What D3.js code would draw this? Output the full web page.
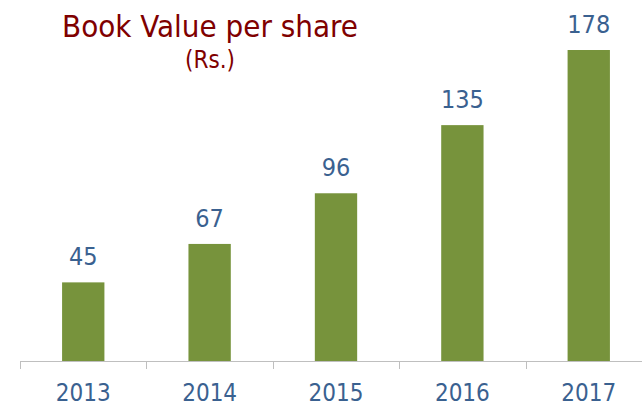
<!DOCTYPE html>
<html>
<head>
<meta charset="utf-8">
<script src="https://cdn.jsdelivr.net/npm/d3@7"></script>
<style>
  body { margin: 0; background: #fff; }
  text { font-family: "DejaVu Sans Condensed", "DejaVu Sans", sans-serif; }
</style>
</head>
<body>
<svg id="chart" width="642" height="407"></svg>
<script>
var years = ["2013", "2014", "2015", "2016", "2017"];
var bookValue = [45, 67, 96, 135, 178];

var svg = d3.select("#chart");

// category bands run past the right edge, as in the original slide crop
var x = d3.scaleBand().domain(years).range([20, 652]).paddingInner(0.665).paddingOuter(0.333);
var y = d3.scaleLinear().domain([0, 178]).range([361, 50]);
var step = x.step();

svg.selectAll("rect.bar")
  .data(bookValue)
  .enter()
  .append("rect")
  .attr("class", "bar")
  .attr("x", function(d, i) { return x(years[i]); })
  .attr("width", x.bandwidth())
  .attr("y", function(d) { return y(d); })
  .attr("height", function(d) { return y(0) - y(d); })
  .attr("fill", "#77933C");

svg.selectAll("text.val")
  .data(bookValue)
  .enter()
  .append("text")
  .attr("class", "val")
  .attr("x", function(d, i) { return x(years[i]) + x.bandwidth() / 2; })
  .attr("y", function(d) { return y(d) - 17; })
  .attr("text-anchor", "middle")
  .attr("font-size", 25)
  .attr("fill", "#3A6190")
  .text(function(d) { return d; });

// axis line + ticks on the category boundaries
var axis = svg.append("g");
axis.append("line")
  .attr("x1", 20).attr("x2", 642)
  .attr("y1", 361.5).attr("y2", 361.5)
  .attr("stroke", "#BFBFBF");

axis.selectAll("line.tick")
  .data(years)
  .enter()
  .append("line")
  .attr("class", "tick")
  .attr("x1", function(d) { return Math.round(x(d) + x.bandwidth() / 2 - step / 2) + 0.5; })
  .attr("x2", function(d) { return Math.round(x(d) + x.bandwidth() / 2 - step / 2) + 0.5; })
  .attr("y1", 361).attr("y2", 369)
  .attr("stroke", "#BFBFBF");

axis.selectAll("text.year")
  .data(years)
  .enter()
  .append("text")
  .attr("class", "year")
  .attr("x", function(d) { return x(d) + x.bandwidth() / 2; })
  .attr("y", 401)
  .attr("text-anchor", "middle")
  .attr("font-size", 24)
  .attr("fill", "#3A6190")
  .text(function(d) { return d; });

svg.append("text")
  .attr("x", 210).attr("y", 37)
  .attr("text-anchor", "middle")
  .attr("font-size", 31)
  .attr("fill", "#7F0000")
  .text("Book Value per share");

svg.append("text")
  .attr("x", 210).attr("y", 68)
  .attr("text-anchor", "middle")
  .attr("font-size", 24)
  .attr("fill", "#7F0000")
  .text("(Rs.)");
</script>
</body>
</html>
